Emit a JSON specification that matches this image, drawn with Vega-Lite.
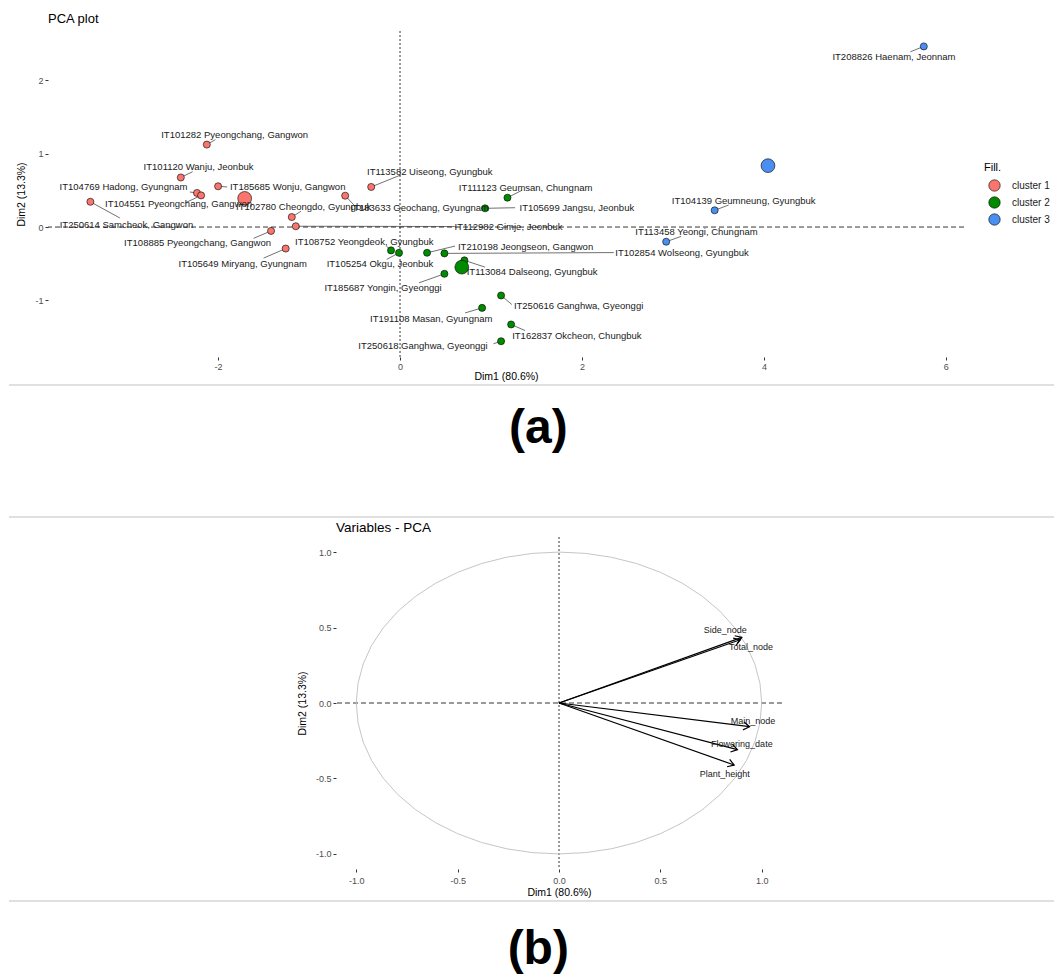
{
  "$schema": "https://vega.github.io/schema/vega-lite/v6.json",
  "background": "white",
  "padding": {"left": 8, "top": 12, "right": 0, "bottom": 0},
  "spacing": 2,
  "config": {
    "view": {"stroke": null},
    "font": "Liberation Sans",
    "axis": {
      "domain": false,
      "gridColor": "#EBEBEB",
      "labelColor": "#4D4D4D",
      "labelFontSize": 9,
      "labelPadding": 2,
      "labelOverlap": false,
      "tickColor": "#333333",
      "tickSize": 3,
      "titleFontSize": 10.5,
      "titleFontWeight": "normal",
      "titleColor": "#000000"
    }
  },
  "datasets": {
    "samples": [
      {"id": "IT101282 Pyeongchang, Gangwon", "cluster": "cluster 1", "x": -2.124, "y": 1.123, "lx": -1.818, "ly": 1.255, "sx": -2.03, "sy": 1.19},
      {"id": "IT101120 Wanju, Jeonbuk", "cluster": "cluster 1", "x": -2.41, "y": 0.675, "lx": -2.215, "ly": 0.82, "sx": -2.28, "sy": 0.754},
      {"id": "IT104769 Hadong, Gyungnam", "cluster": "cluster 1", "x": -2.232, "y": 0.464, "lx": -3.04, "ly": 0.546, "sx": -2.31, "sy": 0.477},
      {"id": "IT104551 Pyeongchang, Gangwon", "cluster": "cluster 1", "x": -2.187, "y": 0.431, "lx": -2.435, "ly": 0.307, "sx": -2.36, "sy": 0.33},
      {"id": "IT185685 Wonju, Gangwon", "cluster": "cluster 1", "x": -2.0, "y": 0.555, "lx": -1.235, "ly": 0.546, "sx": -1.9, "sy": 0.546},
      {"id": "IT113582 Uiseong, Gyungbuk", "cluster": "cluster 1", "x": -0.317, "y": 0.546, "lx": 0.327, "ly": 0.754, "sx": 0.008, "sy": 0.709},
      {"id": "IT183633 Geochang, Gyungnam", "cluster": "cluster 1", "x": -0.603, "y": 0.427, "lx": 0.217, "ly": 0.26, "sx": -0.495, "sy": 0.286},
      {"id": "IT102780 Cheongdo, Gyungbuk", "cluster": "cluster 1", "x": -1.19, "y": 0.136, "lx": -1.06, "ly": 0.273, "sx": -1.09, "sy": 0.214},
      {"id": "IT250614 Samcheok, Gangwon", "cluster": "cluster 1", "x": -3.404, "y": 0.344, "lx": -3.007, "ly": 0.03, "sx": -3.08, "sy": 0.123},
      {"id": "IT112982 Gimje, Jeonbuk", "cluster": "cluster 1", "x": -1.146, "y": 0.011, "lx": 1.193, "ly": 0.0, "sx": 0.602, "sy": 0.007},
      {"id": "IT108885 Pyeongchang, Gangwon", "cluster": "cluster 1", "x": -1.418, "y": -0.053, "lx": -2.226, "ly": -0.224, "sx": -1.61, "sy": -0.154},
      {"id": "IT105649 Miryang, Gyungnam", "cluster": "cluster 1", "x": -1.257, "y": -0.293, "lx": -1.73, "ly": -0.5, "sx": -1.5, "sy": -0.423},
      {"id": "IT111123 Geumsan, Chungnam", "cluster": "cluster 2", "x": 1.181, "y": 0.4, "lx": 1.38, "ly": 0.528, "sx": 1.34, "sy": 0.5},
      {"id": "IT105699 Jangsu, Jeonbuk", "cluster": "cluster 2", "x": 0.935, "y": 0.255, "lx": 1.944, "ly": 0.255, "sx": 1.265, "sy": 0.263},
      {"id": "IT108752 Yeongdeok, Gyungbuk", "cluster": "cluster 2", "x": -0.099, "y": -0.318, "lx": -0.393, "ly": -0.2, "sx": -0.15, "sy": -0.26},
      {"id": "IT105254 Okgu, Jeonbuk", "cluster": "cluster 2", "x": -0.011, "y": -0.351, "lx": -0.22, "ly": -0.509, "sx": -0.146, "sy": -0.44},
      {"id": "IT210198 Jeongseon, Gangwon", "cluster": "cluster 2", "x": 0.297, "y": -0.351, "lx": 1.38, "ly": -0.269, "sx": 0.605, "sy": -0.259},
      {"id": "IT102854 Wolseong, Gyungbuk", "cluster": "cluster 2", "x": 0.488, "y": -0.359, "lx": 3.1, "ly": -0.359, "sx": 2.35, "sy": -0.348},
      {"id": "IT113084 Dalseong, Gyungbuk", "cluster": "cluster 2", "x": 0.708, "y": -0.454, "lx": 1.452, "ly": -0.614, "sx": 0.935, "sy": -0.546},
      {"id": "IT185687 Yongin, Gyeonggi", "cluster": "cluster 2", "x": 0.488, "y": -0.637, "lx": -0.187, "ly": -0.836, "sx": 0.209, "sy": -0.76},
      {"id": "IT250616 Ganghwa, Gyeonggi", "cluster": "cluster 2", "x": 1.111, "y": -0.932, "lx": 1.963, "ly": -1.078, "sx": 1.229, "sy": -1.055},
      {"id": "IT191108 Masan, Gyungnam", "cluster": "cluster 2", "x": 0.902, "y": -1.101, "lx": 0.343, "ly": -1.246, "sx": 0.715, "sy": -1.17},
      {"id": "IT162837 Okcheon, Chungbuk", "cluster": "cluster 2", "x": 1.221, "y": -1.327, "lx": 1.944, "ly": -1.478, "sx": 1.375, "sy": -1.41},
      {"id": "IT250618 Ganghwa, Gyeonggi", "cluster": "cluster 2", "x": 1.111, "y": -1.555, "lx": 0.253, "ly": -1.623, "sx": 1.027, "sy": -1.59},
      {"id": "IT208826 Haenam, Jeonnam", "cluster": "cluster 3", "x": 5.758, "y": 2.46, "lx": 5.43, "ly": 2.31, "sx": 5.61, "sy": 2.387},
      {"id": "IT104139 Geumneung, Gyungbuk", "cluster": "cluster 3", "x": 3.459, "y": 0.228, "lx": 3.778, "ly": 0.355, "sx": 3.613, "sy": 0.3},
      {"id": "IT113458 Yeongi, Chungnam", "cluster": "cluster 3", "x": 2.926, "y": -0.2, "lx": 3.259, "ly": -0.068, "sx": 3.09, "sy": -0.127}
    ],
    "centroids": [
      {"cluster": "cluster 1", "x": -1.708, "y": 0.39},
      {"cluster": "cluster 2", "x": 0.679, "y": -0.546},
      {"cluster": "cluster 3", "x": 4.045, "y": 0.836}
    ],
    "vars": [
      {"name": "Side_node", "x": 0.902, "y": 0.435, "lx": 0.82, "ly": 0.483},
      {"name": "Total_node", "x": 0.894, "y": 0.419, "lx": 0.947, "ly": 0.369},
      {"name": "Main_node", "x": 0.94, "y": -0.157, "lx": 0.957, "ly": -0.12},
      {"name": "Flowering_date", "x": 0.88, "y": -0.309, "lx": 0.902, "ly": -0.27},
      {"name": "Plant_height", "x": 0.864, "y": -0.411, "lx": 0.818, "ly": -0.47}
    ],
    "circle": [
      {"i": 0, "cx": 1, "cy": 0}, {"i": 1, "cx": 0.9914, "cy": 0.1305}, {"i": 2, "cx": 0.9659, "cy": 0.2588},
      {"i": 3, "cx": 0.9239, "cy": 0.3827}, {"i": 4, "cx": 0.866, "cy": 0.5}, {"i": 5, "cx": 0.7934, "cy": 0.6088},
      {"i": 6, "cx": 0.7071, "cy": 0.7071}, {"i": 7, "cx": 0.6088, "cy": 0.7934}, {"i": 8, "cx": 0.5, "cy": 0.866},
      {"i": 9, "cx": 0.3827, "cy": 0.9239}, {"i": 10, "cx": 0.2588, "cy": 0.9659}, {"i": 11, "cx": 0.1305, "cy": 0.9914},
      {"i": 12, "cx": 0, "cy": 1}, {"i": 13, "cx": -0.1305, "cy": 0.9914}, {"i": 14, "cx": -0.2588, "cy": 0.9659},
      {"i": 15, "cx": -0.3827, "cy": 0.9239}, {"i": 16, "cx": -0.5, "cy": 0.866}, {"i": 17, "cx": -0.6088, "cy": 0.7934},
      {"i": 18, "cx": -0.7071, "cy": 0.7071}, {"i": 19, "cx": -0.7934, "cy": 0.6088}, {"i": 20, "cx": -0.866, "cy": 0.5},
      {"i": 21, "cx": -0.9239, "cy": 0.3827}, {"i": 22, "cx": -0.9659, "cy": 0.2588}, {"i": 23, "cx": -0.9914, "cy": 0.1305},
      {"i": 24, "cx": -1, "cy": 0}, {"i": 25, "cx": -0.9914, "cy": -0.1305}, {"i": 26, "cx": -0.9659, "cy": -0.2588},
      {"i": 27, "cx": -0.9239, "cy": -0.3827}, {"i": 28, "cx": -0.866, "cy": -0.5}, {"i": 29, "cx": -0.7934, "cy": -0.6088},
      {"i": 30, "cx": -0.7071, "cy": -0.7071}, {"i": 31, "cx": -0.6088, "cy": -0.7934}, {"i": 32, "cx": -0.5, "cy": -0.866},
      {"i": 33, "cx": -0.3827, "cy": -0.9239}, {"i": 34, "cx": -0.2588, "cy": -0.9659}, {"i": 35, "cx": -0.1305, "cy": -0.9914},
      {"i": 36, "cx": 0, "cy": -1}, {"i": 37, "cx": 0.1305, "cy": -0.9914}, {"i": 38, "cx": 0.2588, "cy": -0.9659},
      {"i": 39, "cx": 0.3827, "cy": -0.9239}, {"i": 40, "cx": 0.5, "cy": -0.866}, {"i": 41, "cx": 0.6088, "cy": -0.7934},
      {"i": 42, "cx": 0.7071, "cy": -0.7071}, {"i": 43, "cx": 0.7934, "cy": -0.6088}, {"i": 44, "cx": 0.866, "cy": -0.5},
      {"i": 45, "cx": 0.9239, "cy": -0.3827}, {"i": 46, "cx": 0.9659, "cy": -0.2588}, {"i": 47, "cx": 0.9914, "cy": -0.1305},
      {"i": 48, "cx": 1, "cy": 0}
    ]
  },
  "vconcat": [
    {
      "hconcat": [
        {"width": 39, "height": 1, "data": {"values": []}, "mark": "point"},
        {
          "width": 916,
          "height": 326,
          "title": {"text": "PCA plot", "anchor": "start", "frame": "group", "fontSize": 13, "fontWeight": "normal", "offset": 5, "color": "#000000"},
          "layer": [
            {
              "data": {"values": [{}]},
              "mark": {"type": "rule", "strokeDash": [2, 2], "color": "#000000", "strokeWidth": 0.8},
              "encoding": {
                "x": {
                  "datum": 0, "type": "quantitative",
                  "scale": {"domain": [-3.87, 6.2], "nice": false, "zero": false},
                  "axis": {
                    "title": "Dim1 (80.6%)",
                    "titlePadding": 0,
                    "values": [-3, -2, -1, 0, 1, 2, 3, 4, 5, 6],
                    "labelExpr": "datum.value % 2 == 0 ? toString(datum.value) : ''",
                    "gridWidth": {"condition": {"test": "datum.value % 2 == 0", "value": 1}, "value": 0.5},
                    "tickOpacity": {"condition": {"test": "datum.value % 2 == 0", "value": 1}, "value": 0}
                  }
                }
              }
            },
            {
              "data": {"values": [{}]},
              "mark": {"type": "rule", "strokeDash": [5, 3], "color": "#000000", "strokeWidth": 0.8},
              "encoding": {
                "y": {
                  "datum": 0, "type": "quantitative",
                  "scale": {"domain": [-1.77, 2.67], "nice": false, "zero": false},
                  "axis": {
                    "title": "Dim2 (13.3%)",
                    "titlePadding": 8,
                    "values": [-1.5, -1, -0.5, 0, 0.5, 1, 1.5, 2, 2.5],
                    "labelExpr": "datum.value % 1 == 0 ? toString(datum.value) : ''",
                    "gridWidth": {"condition": {"test": "datum.value % 1 == 0", "value": 1}, "value": 0.5},
                    "tickOpacity": {"condition": {"test": "datum.value % 1 == 0", "value": 1}, "value": 0}
                  }
                }
              }
            },
            {
              "data": {"name": "samples"},
              "mark": {"type": "rule", "color": "#333333", "strokeWidth": 0.7},
              "encoding": {
                "x": {"field": "x", "type": "quantitative"},
                "y": {"field": "y", "type": "quantitative"},
                "x2": {"field": "sx"},
                "y2": {"field": "sy"}
              }
            },
            {
              "data": {"name": "samples"},
              "mark": {"type": "point", "filled": true, "shape": "circle", "stroke": "#000000", "strokeWidth": 0.6, "size": 50, "opacity": 1},
              "encoding": {
                "x": {"field": "x", "type": "quantitative"},
                "y": {"field": "y", "type": "quantitative"},
                "color": {
                  "field": "cluster", "type": "nominal",
                  "scale": {"domain": ["cluster 1", "cluster 2", "cluster 3"], "range": ["#F8766D", "#008B00", "#4A8FF0"]},
                  "legend": {
                    "title": "Fill.",
                    "orient": "none",
                    "legendX": 975,
                    "legendY": 131,
                    "symbolType": "circle",
                    "symbolSize": 130,
                    "symbolStrokeColor": "#000000",
                    "symbolStrokeWidth": 0.6,
                    "symbolOffset": 4,
                    "labelFontSize": 10,
                    "labelColor": "#1A1A1A",
                    "labelOffset": 11,
                    "titleFontSize": 11,
                    "titleFontWeight": "normal",
                    "titleColor": "#000000",
                    "titlePadding": 6,
                    "rowPadding": 2
                  }
                }
              }
            },
            {
              "data": {"name": "centroids"},
              "mark": {"type": "point", "filled": true, "shape": "circle", "stroke": "#000000", "strokeWidth": 0.6, "size": 190, "opacity": 1},
              "encoding": {
                "x": {"field": "x", "type": "quantitative"},
                "y": {"field": "y", "type": "quantitative"},
                "color": {"field": "cluster", "type": "nominal"}
              }
            },
            {
              "data": {"name": "samples"},
              "mark": {"type": "text", "fontSize": 9.5, "color": "#1A1A1A"},
              "encoding": {
                "x": {"field": "lx", "type": "quantitative"},
                "y": {"field": "ly", "type": "quantitative"},
                "text": {"field": "id"}
              }
            }
          ]
        }
      ],
      "spacing": 0,
      "bounds": "flush"
    },
    {
      "width": 1046,
      "height": 132,
      "data": {"values": [{"label": "(a)"}]},
      "layer": [
        {
          "mark": {"type": "rule", "color": "#D6D6D6", "strokeWidth": 1.5},
          "encoding": {"y": {"datum": 1, "type": "quantitative", "scale": {"domain": [0, 1]}, "axis": null}}
        },
        {
          "mark": {"type": "rule", "color": "#D6D6D6", "strokeWidth": 1.5},
          "encoding": {"y": {"datum": 0, "type": "quantitative"}}
        },
        {
          "mark": {"type": "text", "fontSize": 48, "fontWeight": "bold", "baseline": "alphabetic", "color": "#000000"},
          "encoding": {
            "x": {"datum": 0.506, "type": "quantitative", "scale": {"domain": [0, 1]}, "axis": null},
            "y": {"datum": 0.557, "type": "quantitative"},
            "text": {"field": "label"}
          }
        }
      ]
    },
    {
      "hconcat": [
        {"width": 327, "height": 1, "data": {"values": []}, "mark": "point"},
        {
          "width": 446,
          "height": 332,
          "title": {"text": "Variables - PCA", "anchor": "start", "frame": "group", "fontSize": 13.5, "fontWeight": "normal", "offset": 2.5, "color": "#000000"},
          "layer": [
            {
              "data": {"values": [{}]},
              "mark": {"type": "rule", "strokeDash": [2, 2], "color": "#000000", "strokeWidth": 0.8},
              "encoding": {
                "x": {
                  "datum": 0, "type": "quantitative",
                  "scale": {"domain": [-1.1, 1.1], "nice": false, "zero": false},
                  "axis": {
                    "title": "Dim1 (80.6%)",
                    "titlePadding": 2.5,
                    "labelPadding": 4,
                    "values": [-1, -0.75, -0.5, -0.25, 0, 0.25, 0.5, 0.75, 1],
                    "labelExpr": "datum.value % 0.5 == 0 ? replace(format(datum.value, '.1f'), '\u2212', '-') : ''",
                    "gridWidth": {"condition": {"test": "datum.value % 0.5 == 0", "value": 1}, "value": 0.5},
                    "tickOpacity": {"condition": {"test": "datum.value % 0.5 == 0", "value": 1}, "value": 0}
                  }
                }
              }
            },
            {
              "data": {"values": [{}]},
              "mark": {"type": "rule", "strokeDash": [5, 3], "color": "#000000", "strokeWidth": 0.8},
              "encoding": {
                "y": {
                  "datum": 0, "type": "quantitative",
                  "scale": {"domain": [-1.1, 1.1], "nice": false, "zero": false},
                  "axis": {
                    "title": "Dim2 (13.3%)",
                    "titlePadding": 8,
                    "values": [-1, -0.75, -0.5, -0.25, 0, 0.25, 0.5, 0.75, 1],
                    "labelExpr": "datum.value % 0.5 == 0 ? replace(format(datum.value, '.1f'), '\u2212', '-') : ''",
                    "gridWidth": {"condition": {"test": "datum.value % 0.5 == 0", "value": 1}, "value": 0.5},
                    "tickOpacity": {"condition": {"test": "datum.value % 0.5 == 0", "value": 1}, "value": 0}
                  }
                }
              }
            },
            {
              "data": {"name": "circle"},
              "mark": {"type": "line", "color": "#BEBEBE", "strokeWidth": 0.9},
              "encoding": {
                "x": {"field": "cx", "type": "quantitative"},
                "y": {"field": "cy", "type": "quantitative"},
                "order": {"field": "i", "type": "quantitative"}
              }
            },
            {
              "data": {"name": "vars"},
              "mark": {"type": "rule", "color": "#000000", "strokeWidth": 1.2},
              "encoding": {
                "x": {"field": "x", "type": "quantitative"},
                "y": {"field": "y", "type": "quantitative"},
                "x2": {"datum": 0},
                "y2": {"datum": 0}
              }
            },
            {
              "data": {"name": "vars"},
              "mark": {"type": "point", "shape": "M-1,-0.65L0,0L-1,0.65", "filled": false, "stroke": "#000000", "strokeWidth": 1.2, "size": 150, "opacity": 1},
              "encoding": {
                "x": {"field": "x", "type": "quantitative"},
                "y": {"field": "y", "type": "quantitative"},
                "angle": {"field": "y", "type": "quantitative", "scale": {"domain": [-1, 1], "range": [46.5, -46.5]}}
              }
            },
            {
              "data": {"name": "vars"},
              "mark": {"type": "text", "fontSize": 9, "color": "#1A1A1A"},
              "encoding": {
                "x": {"field": "lx", "type": "quantitative"},
                "y": {"field": "ly", "type": "quantitative"},
                "text": {"field": "name"}
              }
            }
          ]
        }
      ],
      "spacing": 0,
      "bounds": "flush"
    },
    {
      "width": 1046,
      "height": 75,
      "data": {"values": [{"label": "(b)"}]},
      "layer": [
        {
          "mark": {"type": "rule", "color": "#D6D6D6", "strokeWidth": 1.5},
          "encoding": {"y": {"datum": 1, "type": "quantitative", "scale": {"domain": [0, 1]}, "axis": null}}
        },
        {
          "mark": {"type": "text", "fontSize": 48, "fontWeight": "bold", "baseline": "alphabetic", "color": "#000000"},
          "encoding": {
            "x": {"datum": 0.506, "type": "quantitative", "scale": {"domain": [0, 1]}, "axis": null},
            "y": {"datum": 0.16, "type": "quantitative"},
            "text": {"field": "label"}
          }
        }
      ]
    }
  ]
}
